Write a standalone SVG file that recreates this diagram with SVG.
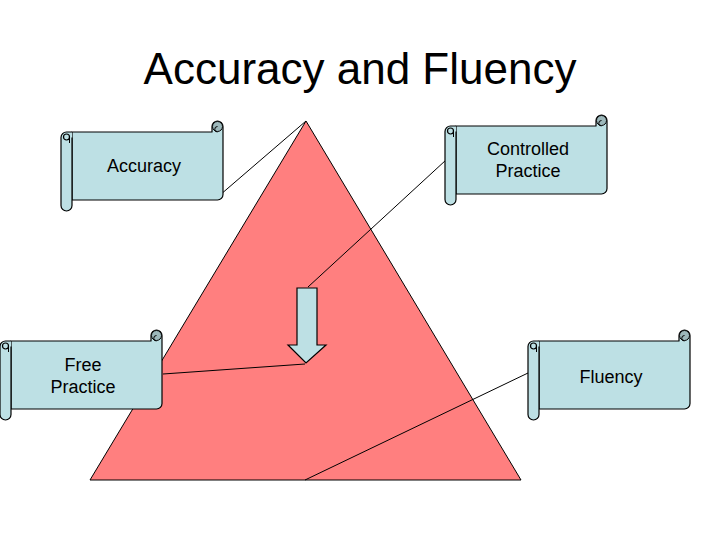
<svg xmlns="http://www.w3.org/2000/svg" xmlns:xlink="http://www.w3.org/1999/xlink" width="720" height="540" viewBox="0 0 720 540">
<style>
.ln{stroke:#000;stroke-width:1;fill:none}
.sc{fill:#BDE0E4;stroke:#000;stroke-width:1.2;stroke-linejoin:round}
.dk{fill:#9DB8BB;stroke:#000;stroke-width:1}
.lbl{font-family:"Liberation Sans",Arial,sans-serif;font-size:18px;fill:#000;text-anchor:middle}
.title{font-family:"Liberation Sans",Arial,sans-serif;font-size:44px;fill:#000;text-anchor:middle}
</style>
<defs>
<g id="scroll">
<path class="sc" d="M11,11 L151,11 L151,5.5 A5.5,5.5 0 0 1 162,5.5 L162,73.5 A5.5,5.5 0 0 1 156.5,79 L11,79 Z"/>
<circle class="dk" cx="156.5" cy="5.5" r="5"/>
<path class="ln" d="M156.5,11 A2.75,2.75 0 0 1 156.5,5.5"/>
<path class="sc" d="M11,16.5 L11,84.5 A5.5,5.5 0 0 1 0,84.5 L0,16.5 A5.5,5.5 0 0 1 5.5,11 L11,11"/>
<circle class="sc" cx="5.5" cy="16" r="3"/>
<path class="ln" d="M8.5,16 L8.5,22"/>
</g>
</defs>
<rect width="720" height="540" fill="#fff"/>
<text class="title" x="360" y="84">Accuracy and Fluency</text>
<g id="triangle">
<polygon points="306,121 521,480 90,480" fill="#FF7F7F" stroke="#000" stroke-width="1"/>
</g>
<g id="arrow">
<polygon points="297,288 317,288 317,345 326,345 306,363 288,345 297,345" fill="#BDE0E4" stroke="#000" stroke-width="1.2"/>
</g>
<g id="connectors">
<line class="ln" x1="220" y1="195" x2="306" y2="121"/>
<line class="ln" x1="446" y1="160" x2="308" y2="287"/>
<line class="ln" x1="163" y1="374" x2="305" y2="364"/>
<line class="ln" x1="528" y1="373" x2="305" y2="480"/>
</g>
<g id="accuracy" transform="translate(61,121)">
<use xlink:href="#scroll" href="#scroll"/>
<text class="lbl" x="83" y="51">Accuracy</text>
</g>
<g id="controlled-practice" transform="translate(445,115)">
<use xlink:href="#scroll" href="#scroll"/>
<text class="lbl" x="83" y="39.5">Controlled</text>
<text class="lbl" x="83" y="61.5">Practice</text>
</g>
<g id="free-practice" transform="translate(0,330)">
<use xlink:href="#scroll" href="#scroll"/>
<text class="lbl" x="83" y="40.5">Free</text>
<text class="lbl" x="83" y="62.5">Practice</text>
</g>
<g id="fluency" transform="translate(528,330)">
<use xlink:href="#scroll" href="#scroll"/>
<text class="lbl" x="83" y="52.5">Fluency</text>
</g>
</svg>
